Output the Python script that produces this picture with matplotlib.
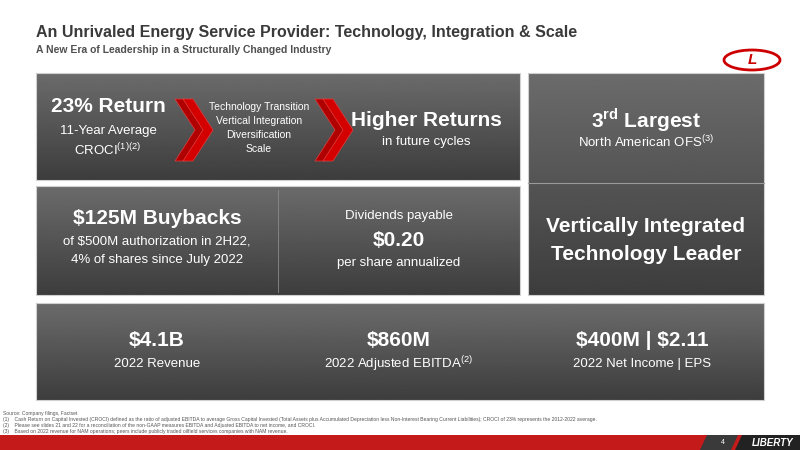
import numpy as np
import matplotlib.pyplot as plt
from matplotlib.patches import Polygon, Rectangle, Ellipse

plt.rcParams['font.family'] = ['Liberation Sans', 'DejaVu Sans']
plt.rcParams['mathtext.fontset'] = 'custom'
plt.rcParams['mathtext.rm'] = 'Liberation Sans'
plt.rcParams['mathtext.bf'] = 'Liberation Sans:bold'

title = "An Unrivaled Energy Service Provider: Technology, Integration & Scale"
subtitle = "A New Era of Leadership in a Structurally Changed Industry"
drivers = ["Technology Transition", "Vertical Integration", "Diversification", "Scale"]
metrics = [r"\$4.1B", r"\$860M", r"\$400M | \$2.11"]
metric_labels = ["2022 Revenue", r"2022 Adjusted EBITDA$^{\mathrm{(2)}}$", "2022 Net Income | EPS"]
footnotes = [
    "Source: Company filings, Factset",
    "(1)    Cash Return on Capital Invested (CROCI) defined as the ratio of adjusted EBITDA to average Gross Capital Invested (Total Assets plus Accumulated Depreciation less Non-Interest Bearing Current Liabilities); CROCI of 23% represents the 2012-2022 average.",
    "(2)    Please see slides 21 and 22 for a reconciliation of the non-GAAP measures EBITDA and Adjusted EBITDA to net income, and CROCI.",
    "(3)    Based on 2022 revenue for NAM operations; peers include publicly traded oilfield services companies with NAM revenue.",
]

fig = plt.figure(figsize=(8, 4.5), dpi=100)
ax = fig.add_axes([0, 0, 1, 1])
ax.set_xlim(0, 800)
ax.set_ylim(450, 0)
ax.axis('off')

grad = np.linspace(0.42, 0.24, 100).reshape(-1, 1)


def panel(x0, y0, x1, y1):
    ax.imshow(grad, cmap='gray', vmin=0, vmax=1, extent=(x0, x1, y1, y0),
              aspect='auto', zorder=1)
    ax.add_patch(Rectangle((x0, y0), x1 - x0, y1 - y0, fill=False,
                           ec='#d0d0d0', lw=0.8, zorder=2))


panel(36, 73, 520, 180)
panel(528, 73, 764, 295)
panel(36, 186, 520, 295)
panel(36, 303, 764, 400)
ax.plot([528, 764], [183, 183], color='#9a9a9a', lw=0.8, zorder=3)
ax.plot([278, 278], [190, 292], color='#8a8a8a', lw=0.6, zorder=3)

# header
ax.text(36, 33, title, fontsize=11.5, fontweight='bold', color='#3a3a3a', va='center')
ax.text(36, 50, subtitle, fontsize=7.5, fontweight='bold', color='#505050', va='center')
ax.add_patch(Ellipse((752, 60), 56, 20, fc='white', ec='#cc0000', lw=2, zorder=3))
ax.text(752, 60, "L", fontsize=11, fontweight='bold', style='italic', color='#cc0000',
        ha='center', va='center', zorder=4)

w = 'white'
ax.text(108, 106, "23% Return", fontsize=15, fontweight='bold', color=w, ha='center', va='center', zorder=4)
ax.text(108, 131, "11-Year Average", fontsize=9.5, color=w, ha='center', va='center', zorder=4)
ax.text(108, 150, r"CROCI$^{\mathrm{(1)(2)}}$", fontsize=9.5, color=w, ha='center', va='center', zorder=4)
for i, d in enumerate(drivers):
    ax.text(259, 107 + i * 14, d, fontsize=7.5, color=w, ha='center', va='center', zorder=4)
for cx in (175, 315):
    for off in (0, 8):
        x = cx + off
        ax.add_patch(Polygon([(x, 99), (x + 10, 99), (x + 30, 130), (x + 10, 161), (x, 161), (x + 20, 130)],
                             fc='#d40000' if off else '#b00000', ec='#e04040', lw=0.5, zorder=4))
ax.text(426, 120, "Higher Returns", fontsize=15, fontweight='bold', color=w, ha='center', va='center', zorder=4)
ax.text(426, 142, "in future cycles", fontsize=9.5, color=w, ha='center', va='center', zorder=4)

ax.text(646, 120, r"3$^{\mathbf{rd}}$ Largest", fontsize=15, fontweight='bold', color=w, ha='center', va='center', zorder=4)
ax.text(646, 142, r"North American OFS$^{\mathrm{(3)}}$", fontsize=9.5, color=w, ha='center', va='center', zorder=4)
ax.text(646, 226, "Vertically Integrated", fontsize=15, fontweight='bold', color=w, ha='center', va='center', zorder=4)
ax.text(646, 254, "Technology Leader", fontsize=15, fontweight='bold', color=w, ha='center', va='center', zorder=4)

ax.text(157, 218, r"\$125M Buybacks", fontsize=15, fontweight='bold', color=w, ha='center', va='center', zorder=4)
ax.text(157, 242, r"of \$500M authorization in 2H22,", fontsize=9.5, color=w, ha='center', va='center', zorder=4)
ax.text(157, 260, "4% of shares since July 2022", fontsize=9.5, color=w, ha='center', va='center', zorder=4)
ax.text(399, 216, "Dividends payable", fontsize=9.5, color=w, ha='center', va='center', zorder=4)
ax.text(399, 240, r"\$0.20", fontsize=15, fontweight='bold', color=w, ha='center', va='center', zorder=4)
ax.text(399, 263, "per share annualized", fontsize=9.5, color=w, ha='center', va='center', zorder=4)

for cx, m, lab in zip([157, 399, 642], metrics, metric_labels):
    ax.text(cx, 340, m, fontsize=15, fontweight='bold', color=w, ha='center', va='center', zorder=4)
    ax.text(cx, 364, lab, fontsize=9.5, color=w, ha='center', va='center', zorder=4)

for i, f in enumerate(footnotes):
    ax.text(3, 413 + i * 6.2, f, fontsize=3.6, color='#555555', va='center')

# bottom band
ax.add_patch(Rectangle((0, 435), 800, 15, fc='#c41a1a', ec='none', zorder=2))
ax.add_patch(Polygon([(735, 450), (742, 435), (800, 435), (800, 450)], fc='#222222', zorder=3))
ax.add_patch(Polygon([(700, 450), (707, 435), (738, 435), (731, 450)], fc='#3a3a3a', zorder=3))
ax.text(723, 442.5, "4", fontsize=5, color=w, ha='center', va='center', zorder=4)
ax.text(773, 442.5, "LIBERTY", fontsize=7, fontweight='bold', style='italic', color=w,
        ha='center', va='center', zorder=4)

fig.savefig("out.png", dpi=100)
